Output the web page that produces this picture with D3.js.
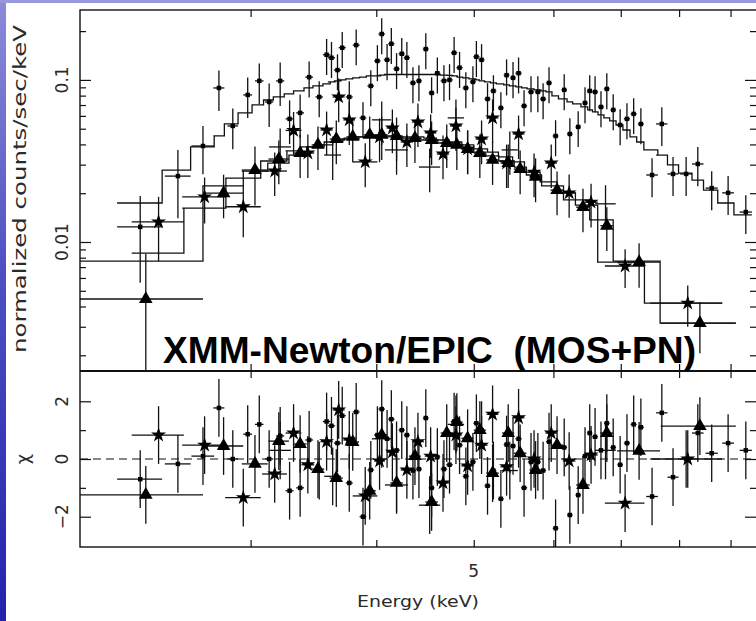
<!DOCTYPE html>
<html>
<head>
<meta charset="utf-8">
<script src="https://cdn.jsdelivr.net/npm/d3@7"></script>
<style>
  body { margin: 0; background: #fff; }
  svg { display: block; }
</style>
</head>
<body>
<svg id="chart" width="756" height="621"></svg>
<script>
// ---- PN (small squares) ----
var pnEnergy = [2.33,2.54,2.69,2.79,2.88,2.98,3.06,3.13,3.21,3.28,3.36,3.43,3.51,3.57,3.61,3.66,3.70,3.76,3.82,3.88,
  3.95,4.01,4.05,4.10,4.14,4.19,4.24,4.29,4.35,4.41,4.48,4.54,4.60,4.67,4.73,4.78,4.84,4.91,4.99,5.03,
  5.09,5.16,5.23,5.32,5.39,5.47,5.54,5.61,5.70,5.79,5.86,5.94,6.03,6.15,6.23,6.35,6.45,6.52,6.60,6.69,
  6.78,6.88,6.99,7.10,7.21,7.33,7.52,7.69,7.89,8.13,8.35,8.62,8.95,9.32];
var pnHalfWidth = [.12,.075,.07,.035,.035,.03,.03,.03,.03,.03,.03,.03,.03,.03,.03,.03,.03,.03,.03,.03,
  .03,.03,.03,.03,.03,.03,.03,.03,.03,.03,.03,.03,.03,.035,.035,.035,.035,.035,.035,.035,
  .035,.035,.035,.035,.035,.035,.04,.04,.04,.04,.04,.04,.04,.04,.04,.04,.04,.04,.045,.045,
  .045,.045,.045,.05,.05,.05,.10,.10,.10,.11,.11,.12,.12,.13];
var pnRate = [.0124,.0255,.0391,.0892,.0520,.0808,.0986,.0731,.0986,.0575,.0626,.104,.0785,.143,.137,.115,.158,.0785,.164,.0583,
  .0918,.131,.192,.133,.167,.117,.145,.137,.0958,.0986,.155,.0831,.110,.0986,.100,.147,.119,.0892,.0972,.139,
  .133,.0763,.0855,.0672,.107,.103,.110,.0691,.0843,.0843,.0763,.0958,.0451,.0868,.0464,.0513,.0721,.0855,.0843,.0681,
  .088,.0653,.0527,.0575,.0617,.0535,.0259,.0535,.0263,.0263,.0303,.0215,.0201,.0153];
var pnError = [.0068,.0115,.0129,.025,.0146,.0226,.0276,.0219,.0296,.0173,.0188,.026,.0196,.0358,.0343,.0288,.0395,.0196,.041,.0146,
  .023,.0328,.048,.0333,.0418,.0293,.0363,.0343,.024,.0247,.0388,.0208,.0275,.0247,.025,.0368,.0298,.0223,.0243,.0348,
  .0333,.0191,.0214,.0168,.0268,.0258,.0275,.0173,.0211,.0211,.0191,.024,.0113,.0217,.0116,.0128,.018,.0214,.0211,.017,
  .022,.0163,.0132,.0144,.0154,.0134,.007,.0144,.0071,.0071,.0082,.0058,.0054,.0041];
var pnModel = [.0174,.0278,.0386,.0451,.0535,.0626,.0701,.0752,.0785,.082,.0855,.0892,.0918,.0945,.0972,.0986,.100,.1014,.103,.104,
  .106,.106,.107,.108,.108,.108,.108,.108,.108,.108,.108,.108,.108,.107,.1066,.106,.104,.103,.1014,.100,
  .0986,.0972,.0958,.0945,.0931,.0918,.0905,.0892,.088,.0868,.0855,.0843,.0797,.0763,.0731,.0711,.0681,.0653,.0635,.0608,
  .0583,.0559,.0527,.0491,.0445,.0414,.037,.0344,.0299,.0266,.0241,.0209,.0174,.0147];
var pnChi = [-0.7,-0.17,0.1,1.77,0,0.86,1.2,0,0.8,-1.1,-1.0,0.66,-0.4,1.3,1.15,0.55,1.5,-0.83,1.63,-2.0,
  -0.38,0.83,1.73,0.7,1.38,0.3,1.0,0.83,-0.4,-0.35,1.42,-1.0,0.07,-0.35,-0.2,1.3,0.48,-0.6,-0.1,1.24,
  1.0,-0.93,-0.4,-1.38,0.5,0.45,0.7,-1.0,-0.1,-0.1,-0.4,0.6,-2.4,0.4,-1.94,-1.25,0.1,0.9,0.77,0.3,
  1.24,0.4,-0.2,0.55,1.2,1.1,-1.3,1.6,-0.63,0.0,0.9,0.2,0.55,0.3];

// ---- MOS1 (stars) ----
var mos1Energy = [2.43,2.70,2.95,3.17,3.31,3.42,3.57,3.67,3.76,3.90,4.03,4.15,4.29,4.40,4.53,4.66,4.80,4.93,5.09,5.22,5.39,5.54,5.74,5.97,6.22,6.54,7.07,8.16];
var mos1HalfWidth = [.145,.135,.12,.09,.06,.05,.05,.05,.05,.11,.05,.055,.06,.06,.06,.065,.065,.07,.07,.07,.075,.075,.08,.08,.09,.1,.32,.67];
var mos1Rate = [.0133,.0190,.0165,.0274,.0488,.0354,.0491,.0785,.0567,.0312,.0445,.0505,.0414,.0550,.0471,.0349,.0520,.0375,.0432,.0583,.0307,.0464,.0270,.0307,.0201,.0176,.00711,.0042];
var mos1Error = [.0057,.006,.0058,.0082,.0146,.0106,.0147,.0236,.017,.0094,.0134,.0152,.0124,.0165,.0141,.0105,.0156,.0113,.013,.0175,.0092,.0139,.0081,.0092,.006,.0053,.0019,.0012];
var mos1Model = [.00855,.0162,.0248,.0316,.0365,.0386,.0397,.0426,.0438,.0445,.0451,.0451,.0445,.0445,.0438,.0426,.0414,.0397,.0375,.0359,.0335,.0312,.027,.0235,.0201,.0169,.00752,.0042];
var mos1Chi = [0.83,0.48,-1.34,-0.52,0.9,-0.2,0.6,1.7,0.66,-1.28,-0.07,0.24,-0.38,0.6,0.1,-0.83,0.83,-0.24,0.48,1.55,-0.27,1.43,0,0.9,-0.07,0.14,-1.53,0];

// ---- MOS2 (triangles) ----
var mos2Energy = [2.36,2.82,3.03,3.20,3.36,3.50,3.65,3.79,3.94,4.05,4.19,4.37,4.54,4.70,4.81,4.93,5.07,5.22,5.41,5.56,5.76,6.05,6.42,6.78,7.30,8.39];
var mos2HalfWidth = [.33,.13,.09,.075,.05,.05,.055,.055,.055,.055,.06,.06,.065,.065,.065,.07,.07,.075,.075,.08,.08,.09,.1,.1,.36,.72];
var mos2Rate = [.00445,.0200,.0278,.0325,.0354,.0397,.0432,.0445,.0458,.0458,.0451,.0438,.0426,.0408,.0397,.0375,.0354,.0321,.0307,.0282,.0252,.0209,.0164,.0126,.00752,.00316];
var mos2Error = [.0040,.006,.011,.0098,.0106,.0119,.013,.0134,.0137,.0137,.0135,.0131,.0128,.0122,.0119,.0113,.0106,.0096,.0092,.0085,.0076,.0063,.0049,.0038,.0023,.0011];
var mos2Model = [.00763,.0222,.0274,.0307,.0344,.0386,.0414,.0432,.0445,.0445,.0445,.0438,.0426,.0408,.0397,.038,.0359,.034,.0316,.029,.0259,.0222,.0182,.0137,.00763,.00316];
var mos2Chi = [-1.24,0.45,-0.17,0.62,0.52,-0.35,-0.66,0.59,-1.1,0.83,-0.83,0.1,-1.49,0.9,1.28,0.72,1.0,-0.49,0.9,0.2,-0.38,0.48,-0.9,0.9,0.28,1.14];

// ---- plain crosses (no marker) ----
var extraEnergy = [3.21,3.62,4.05,4.19,4.52,4.80,5.43,6.76];
var extraHalfWidth = [.08,.07,.09,.11,.11,.09,.1,.16];
var extraRate = [.0386,.0344,.0567,.0370,.0290,.0583,.0370,.0172];
var extraError = [.0116,.0103,.017,.011,.0087,.0175,.011,.0052];
var extraChi = [0.3,-0.6,0.7,-0.9,-1.6,1.2,-0.4,0.3];

// ---- axes ----
var xTicks = [3,4,5,6,7,8,9];
var xLabels = [5];
var rateMajor = [0.01, 0.1];
var rateMinor = [0.002,0.003,0.004,0.005,0.006,0.007,0.008,0.009,0.02,0.03,0.04,0.05,0.06,0.07,0.08,0.09,0.2];
var rateLabels = ["0.01", "0.1"];
var chiMajor = [-2, 0, 2];
var chiMinor = [-1, 1];
var chiLabels = ["\u22122", "0", "2"];

var svg = d3.select("#chart");
var ink = "#111";

// slide background edges
var defs = svg.append("defs");
var grad = defs.append("linearGradient").attr("id", "slideEdge")
    .attr("x1", 0).attr("y1", 0).attr("x2", 0).attr("y2", 1);
grad.append("stop").attr("offset", "0%").attr("stop-color", "#8c8cda");
grad.append("stop").attr("offset", "45%").attr("stop-color", "#4e4ec2");
grad.append("stop").attr("offset", "100%").attr("stop-color", "#2222ae");
svg.append("rect").attr("width", 756).attr("height", 621).attr("fill", "#fff");
svg.append("rect").attr("width", 6).attr("height", 621).attr("fill", "url(#slideEdge)");
svg.append("rect").attr("width", 756).attr("height", 3).attr("fill", "#9898de");

defs.append("clipPath").attr("id", "clipTop").append("rect")
    .attr("x", 80).attr("y", 10).attr("width", 676).attr("height", 361);
defs.append("clipPath").attr("id", "clipRes").append("rect")
    .attr("x", 80).attr("y", 371).attr("width", 676).attr("height", 176);

var x = d3.scaleLog().domain([2.03, 9.54]).range([80, 756]);
var yTop = d3.scaleLog().domain([0.0016, 0.27]).range([371, 10]);
var yRes = d3.scaleLinear().domain([-3.05, 3.05]).range([547, 371]);

var specPanel = svg.append("g").attr("clip-path", "url(#clipTop)");
var resPanel = svg.append("g").attr("clip-path", "url(#clipRes)");

// model histogram: step line over the bins
function stepModel(g, e, hw, m) {
  var pts = [];
  e.forEach(function(c, i) {
    pts.push([x(c - hw[i]), yTop(m[i])]);
    pts.push([x(c + hw[i]), yTop(m[i])]);
    if (i < e.length - 1) pts.push([x(c + hw[i]), yTop(m[i + 1])]);
  });
  g.append("path")
      .attr("d", d3.line()(pts))
      .attr("fill", "none")
      .attr("stroke", ink)
      .attr("stroke-width", 1.3);
}

function errorBars(g, ys, e, hw, val, lo, hi) {
  var idx = d3.range(e.length);
  var bars = g.append("g").attr("stroke", ink).attr("stroke-width", 1.3);
  bars.selectAll(null).data(idx).enter().append("line")
      .attr("x1", function(i) { return x(e[i] - hw[i]); })
      .attr("x2", function(i) { return x(e[i] + hw[i]); })
      .attr("y1", function(i) { return ys(val[i]); })
      .attr("y2", function(i) { return ys(val[i]); });
  bars.selectAll(null).data(idx).enter().append("line")
      .attr("x1", function(i) { return x(e[i]); })
      .attr("x2", function(i) { return x(e[i]); })
      .attr("y1", function(i) { return ys(lo(i)); })
      .attr("y2", function(i) { return ys(hi(i)); });
}

function markers(g, ys, e, val, sym) {
  g.append("g").selectAll(null).data(d3.range(e.length)).enter().append("path")
      .attr("transform", function(i) { return "translate(" + x(e[i]) + "," + ys(val[i]) + ")"; })
      .attr("d", sym())
      .attr("fill", "#000");
}

var square = d3.symbol(d3.symbolSquare, 20);
var star = d3.symbol(d3.symbolStar, 70);
var triangle = d3.symbol(d3.symbolTriangle, 80);

// models
stepModel(specPanel, pnEnergy, pnHalfWidth, pnModel);
stepModel(specPanel, mos1Energy, mos1HalfWidth, mos1Model);
stepModel(specPanel, mos2Energy, mos2HalfWidth, mos2Model);

// upper panel data
function rateBars(e, hw, r, err) {
  errorBars(specPanel, yTop, e, hw, r,
    function(i) { return Math.max(r[i] - err[i], 1e-4); },
    function(i) { return r[i] + err[i]; });
}
rateBars(pnEnergy, pnHalfWidth, pnRate, pnError);
rateBars(mos1Energy, mos1HalfWidth, mos1Rate, mos1Error);
rateBars(mos2Energy, mos2HalfWidth, mos2Rate, mos2Error);
rateBars(extraEnergy, extraHalfWidth, extraRate, extraError);
markers(specPanel, yTop, pnEnergy, pnRate, square);
markers(specPanel, yTop, mos1Energy, mos1Rate, star);
markers(specPanel, yTop, mos2Energy, mos2Rate, triangle);

// residual panel
resPanel.append("line")
    .attr("x1", 80).attr("x2", 756)
    .attr("y1", yRes(0)).attr("y2", yRes(0))
    .attr("stroke", ink).attr("stroke-width", 1.2)
    .attr("stroke-dasharray", "8,5");
function chiBars(e, hw, c) {
  errorBars(resPanel, yRes, e, hw, c,
    function(i) { return c[i] - 1; },
    function(i) { return c[i] + 1; });
}
chiBars(pnEnergy, pnHalfWidth, pnChi);
chiBars(mos1Energy, mos1HalfWidth, mos1Chi);
chiBars(mos2Energy, mos2HalfWidth, mos2Chi);
chiBars(extraEnergy, extraHalfWidth, extraChi);
markers(resPanel, yRes, pnEnergy, pnChi, square);
markers(resPanel, yRes, mos1Energy, mos1Chi, star);
markers(resPanel, yRes, mos2Energy, mos2Chi, triangle);

// ticks, all pointing inward
function clean(g) {
  g.select(".domain").remove();
  g.attr("color", ink).selectAll("line").attr("stroke-width", 1.2);
}
function xTickRow(yPos, up) {
  var axis = up ? d3.axisBottom(x) : d3.axisTop(x);
  svg.append("g").attr("transform", "translate(0," + yPos + ")")
      .call(axis.tickValues(xTicks).tickSize(-7).tickFormat(""))
      .call(clean);
}
xTickRow(10, false);
xTickRow(371, true);
xTickRow(371, false);
xTickRow(547, true);

function yTicks(scale, values, size) {
  svg.append("g").attr("transform", "translate(80,0)")
      .call(d3.axisLeft(scale).tickValues(values).tickSize(-size).tickFormat(""))
      .call(clean);
  svg.append("g").attr("transform", "translate(756,0)")
      .call(d3.axisRight(scale).tickValues(values).tickSize(-size).tickFormat(""))
      .call(clean);
}
yTicks(yTop, rateMajor, 11);
yTicks(yTop, rateMinor, 6);
yTicks(yRes, chiMajor, 11);
yTicks(yRes, chiMinor, 6);

// frames
svg.append("rect")
    .attr("x", 80).attr("y", 10).attr("width", 677).attr("height", 537)
    .attr("fill", "none").attr("stroke", ink).attr("stroke-width", 1.4);
svg.append("line")
    .attr("x1", 80).attr("x2", 756).attr("y1", 371).attr("y2", 371)
    .attr("stroke", ink).attr("stroke-width", 2.2);

// labels
var labelFont = "'DejaVu Sans', sans-serif";
var labelInk = "#2a2a2a";
function rotated(xPos, yPos, txt, size, len) {
  var t = svg.append("text")
      .attr("transform", "translate(" + xPos + "," + yPos + ") rotate(-90)")
      .attr("text-anchor", "middle")
      .attr("font-family", labelFont)
      .attr("font-size", size)
      .attr("fill", labelInk)
      .text(txt);
  if (len) t.attr("textLength", len).attr("lengthAdjust", "spacingAndGlyphs");
}
rateMajor.forEach(function(v, i) { rotated(68, yTop(v), rateLabels[i], 17); });
chiMajor.forEach(function(v, i) { rotated(68, yRes(v), chiLabels[i], 17); });
rotated(26, 189, "normalized counts/sec/keV", 18, 328);
rotated(29, yRes(0), "\u03c7", 18);

svg.selectAll(".xlab").data(xLabels).enter().append("text")
    .attr("x", function(d) { return x(d); })
    .attr("y", 577)
    .attr("text-anchor", "middle")
    .attr("font-family", labelFont).attr("font-size", 17)
    .attr("fill", labelInk)
    .text(function(d) { return d; });
svg.append("text")
    .attr("x", 418).attr("y", 607)
    .attr("text-anchor", "middle")
    .attr("font-family", labelFont).attr("font-size", 16)
    .attr("fill", labelInk)
    .attr("textLength", 122).attr("lengthAdjust", "spacingAndGlyphs")
    .text("Energy (keV)");

svg.append("text")
    .attr("x", 163).attr("y", 363)
    .attr("font-family", "'Liberation Sans', Arial, sans-serif")
    .attr("font-weight", "bold")
    .attr("font-size", 37)
    .attr("fill", "#000")
    .style("white-space", "pre")
    .attr("textLength", 533).attr("lengthAdjust", "spacingAndGlyphs")
    .text("XMM-Newton/EPIC  (MOS+PN)");
</script>
</body>
</html>
